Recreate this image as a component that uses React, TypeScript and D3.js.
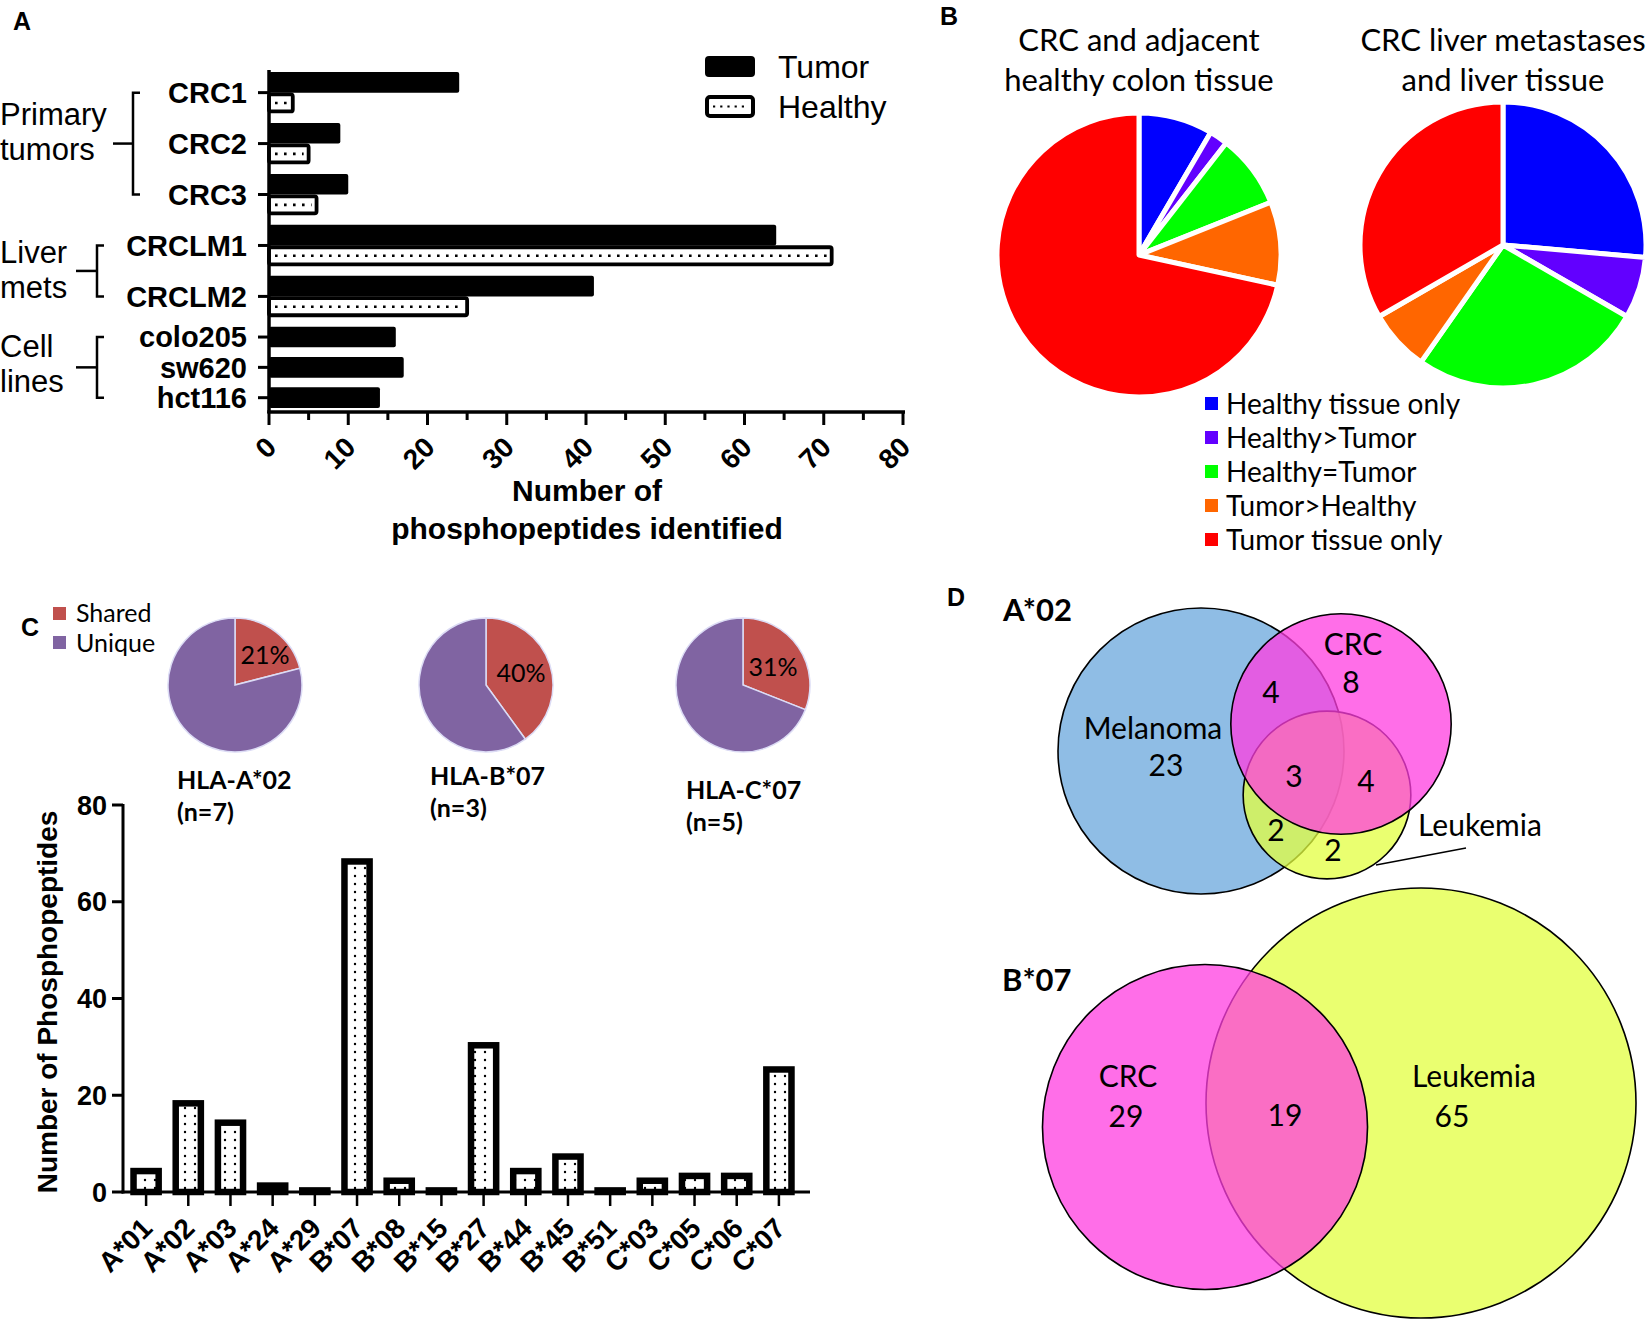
import React from 'react';
import * as d3 from 'd3';

// ---------- Panel A: phosphopeptides per sample ----------
const samplesA = ['CRC1', 'CRC2', 'CRC3', 'CRCLM1', 'CRCLM2', 'colo205', 'sw620', 'hct116'];
const tumorA = [24, 9, 10, 64, 41, 16, 17, 14];
const healthyA: (number | null)[] = [3, 5, 6, 71, 25, null, null, null];
const ticksA = [0, 10, 20, 30, 40, 50, 60, 70, 80];
const groupsA = [
  { lines: ['Primary', 'tumors'], from: 0, to: 2, bx: 133, stub: 113, textY: 125 },
  { lines: ['Liver', 'mets'], from: 3, to: 4, bx: 97, stub: 76, textY: 263 },
  { lines: ['Cell', 'lines'], from: 5, to: 7, bx: 97, stub: 76, textY: 357 },
];

// ---------- Panel B: pies ----------
const categoriesB = ['Healthy tissue only', 'Healthy>Tumor', 'Healthy=Tumor', 'Tumor>Healthy', 'Tumor tissue only'];
const colorsB = ['#0000ff', '#6200ff', '#00ff00', '#ff6600', '#ff0000'];
const colonCounts = [8, 2, 8, 9, 68];
const liverCounts = [19, 5, 19, 5, 24];
const titlesB = [
  ['CRC and adjacent', 'healthy colon tissue'],
  ['CRC liver metastases', 'and liver tissue'],
];

// ---------- Panel C ----------
const allelesPie = ['HLA-A*02', 'HLA-B*07', 'HLA-C*07'];
const nPie = [7, 3, 5];
const sharedPct = [21, 40, 31];
const allelesC = ['A*01', 'A*02', 'A*03', 'A*24', 'A*29', 'B*07', 'B*08', 'B*15', 'B*27', 'B*44', 'B*45', 'B*51', 'C*03', 'C*05', 'C*06', 'C*07'];
const countsC = [5, 19, 15, 2, 1, 69, 3, 1, 31, 5, 8, 1, 3, 4, 4, 26];
const ticksC = [0, 20, 40, 60, 80];

// ---------- Panel D: Venn ----------
const regionsA02 = [
  { sets: ['Melanoma'], value: 23 },
  { sets: ['CRC'], value: 8 },
  { sets: ['Melanoma', 'CRC'], value: 4 },
  { sets: ['Melanoma', 'CRC', 'Leukemia'], value: 3 },
  { sets: ['CRC', 'Leukemia'], value: 4 },
  { sets: ['Melanoma', 'Leukemia'], value: 2 },
  { sets: ['Leukemia'], value: 2 },
];
const regionsB07 = [
  { sets: ['CRC'], value: 29 },
  { sets: ['CRC', 'Leukemia'], value: 19 },
  { sets: ['Leukemia'], value: 65 },
];

const ARIAL = "'Liberation Sans', Arial, sans-serif";
const CAL = "Lato, 'Open Sans', sans-serif";

function setTotal(regions: { sets: string[]; value: number }[], name: string) {
  return d3.sum(regions.filter(r => r.sets.includes(name)), r => r.value);
}

function PanelA() {
  const x = d3.scaleLinear().domain([0, 80]).range([269, 903]);
  const GAP = 0.47;
  let acc = 0;
  const rows = samplesA.map((name, i) => {
    const n = healthyA[i] == null ? 1 : 2;
    const r = { name, i, start: acc, n };
    acc += n + GAP;
    return r;
  });
  const y = d3.scaleLinear().domain([0, acc - GAP]).range([72, 408]);
  const tickY = (i: number) => y(rows[i].start + rows[i].n / 2);
  const minor = d3.range(5, 80, 10);

  return (
    <g fontFamily={ARIAL}>
      <text x={13} y={30} fontSize={25} fontWeight="bold">A</text>

      {/* bars */}
      {rows.map(r => {
        const h = healthyA[r.i];
        const t0 = y(r.start), t1 = y(r.start + 1);
        return (
          <g key={r.name}>
            <rect x={x(0)} y={t0} width={x(tumorA[r.i]) - x(0)} height={t1 - t0} fill="#000" rx={2} />
            {h != null && (
              <g>
                <rect x={x(0)} y={y(r.start + 1) + 1.8} width={x(h) - x(0)} height={y(r.start + 2) - y(r.start + 1) - 3.6}
                  fill="#fff" stroke="#000" strokeWidth={3.8} rx={2} />
                <line x1={x(0) + 6} x2={x(h) - 5} y1={(y(r.start + 1) + y(r.start + 2)) / 2} y2={(y(r.start + 1) + y(r.start + 2)) / 2}
                  stroke="#000" strokeWidth={2.6} strokeDasharray="2.6 6.4" />
              </g>
            )}
          </g>
        );
      })}

      {/* axes */}
      <line x1={x(0)} x2={x(0)} y1={70} y2={413} stroke="#000" strokeWidth={3.5} />
      <line x1={x(0) - 1.7} x2={x(80) + 2} y1={412} y2={412} stroke="#000" strokeWidth={3.5} />
      {rows.map(r => (
        <g key={'t' + r.name}>
          <line x1={x(0) - 11} x2={x(0)} y1={tickY(r.i)} y2={tickY(r.i)} stroke="#000" strokeWidth={3} />
          <text x={247} y={tickY(r.i)} dy="0.36em" textAnchor="end" fontSize={29} fontWeight="bold">{r.name}</text>
        </g>
      ))}
      {ticksA.map(v => (
        <g key={'x' + v}>
          <line x1={x(v)} x2={x(v)} y1={412} y2={425} stroke="#000" strokeWidth={3} />
          <text transform={`translate(${x(v) + 9},${449}) rotate(-45)`} textAnchor="end" fontSize={28} fontWeight="bold">{v}</text>
        </g>
      ))}
      {minor.map(v => (
        <line key={'m' + v} x1={x(v)} x2={x(v)} y1={412} y2={420} stroke="#000" strokeWidth={3} />
      ))}
      <text x={587} y={501} textAnchor="middle" fontSize={30} fontWeight="bold">Number of</text>
      <text x={587} y={539} textAnchor="middle" fontSize={30} fontWeight="bold">phosphopeptides identified</text>

      {/* brackets */}
      {groupsA.map(g => {
        const top = tickY(g.from), bot = tickY(g.to), mid = (top + bot) / 2;
        return (
          <g key={g.lines[0]}>
            <path d={`M${g.bx + 7},${top} H${g.bx} V${bot} H${g.bx + 7}`} fill="none" stroke="#000" strokeWidth={2.5} />
            <line x1={g.stub} x2={g.bx} y1={mid} y2={mid} stroke="#000" strokeWidth={2.5} />
            <text x={0} y={g.textY} fontSize={31}>{g.lines[0]}</text>
            <text x={0} y={g.textY + 35} fontSize={31}>{g.lines[1]}</text>
          </g>
        );
      })}

      {/* legend */}
      <rect x={705} y={56} width={50} height={21} rx={4} fill="#000" />
      <text x={778} y={78} fontSize={32}>Tumor</text>
      <rect x={707} y={97} width={46} height={19} rx={3} fill="#fff" stroke="#000" strokeWidth={4} />
      <line x1={713} x2={748} y1={106.5} y2={106.5} stroke="#000" strokeWidth={2.2} strokeDasharray="2.2 5" />
      <text x={778} y={118} fontSize={32}>Healthy</text>
    </g>
  );
}

function PieB({ counts, cx, cy, r }: { counts: number[]; cx: number; cy: number; r: number }) {
  const arcs = d3.pie<number>().sort(null).value(d => d)(counts);
  const arc = d3.arc<d3.PieArcDatum<number>>().innerRadius(0).outerRadius(r);
  return (
    <g transform={`translate(${cx},${cy})`}>
      {arcs.map((a, i) => (
        <path key={i} d={arc(a) || undefined} fill={colorsB[i]} stroke="#fff" strokeWidth={5} strokeLinejoin="round" />
      ))}
    </g>
  );
}

function PanelB() {
  const centers = [[1139, 255], [1503, 245]];
  const legendY = d3.scalePoint<string>().domain(categoriesB).range([404, 540]);
  return (
    <g fontFamily={CAL}>
      <text x={940} y={25} fontSize={25} fontWeight="bold" fontFamily={ARIAL}>B</text>
      {titlesB.map((t, i) => (
        <g key={i}>
          <text x={centers[i][0]} y={51} textAnchor="middle" fontSize={31}>{t[0]}</text>
          <text x={centers[i][0]} y={91} textAnchor="middle" fontSize={31}>{t[1]}</text>
        </g>
      ))}
      <PieB counts={colonCounts} cx={centers[0][0]} cy={centers[0][1]} r={142} />
      <PieB counts={liverCounts} cx={centers[1][0]} cy={centers[1][1]} r={143} />
      {categoriesB.map((c, i) => (
        <g key={c}>
          <rect x={1205} y={legendY(c)! - 7} width={13} height={13} fill={colorsB[i]} />
          <text x={1226} y={legendY(c)!} dy="0.34em" fontSize={28}>{c}</text>
        </g>
      ))}
    </g>
  );
}

function PanelC() {
  const pieCenters = [235, 486, 743];
  const pctPos = [[265, 655], [521, 673], [773, 667]];
  const labelPos = [[177, 780], [430, 776], [686, 790]];
  const arc = d3.arc<d3.PieArcDatum<number>>().innerRadius(0).outerRadius(67);
  const x = d3.scaleBand<string>().domain(allelesC).range([125, 800]).paddingInner(0.25).paddingOuter(0.125);
  const y = d3.scaleLinear().domain([0, 80]).range([1192, 805]);
  const sw = 6.5;
  return (
    <g>
      <text x={21} y={636} fontSize={25} fontWeight="bold" fontFamily={ARIAL}>C</text>
      <g fontFamily={CAL}>
        <rect x={53} y={607} width={13} height={13} fill="#c0504d" />
        <text x={76} y={613} dy="0.36em" fontSize={25}>Shared</text>
        <rect x={53} y={636} width={13} height={13} fill="#8064a2" />
        <text x={76} y={643} dy="0.36em" fontSize={25}>Unique</text>
        {sharedPct.map((p, i) => {
          const arcs = d3.pie<number>().sort(null).value(d => d)([p, 100 - p]);
          return (
            <g key={i}>
              <g transform={`translate(${pieCenters[i]},685)`}>
                {arcs.map((a, j) => (
                  <path key={j} d={arc(a) || undefined} fill={j === 0 ? '#c0504d' : '#8064a2'} stroke="#dcdcf5" strokeWidth={1.5} />
                ))}
              </g>
              <text x={pctPos[i][0]} y={pctPos[i][1]} dy="0.36em" textAnchor="middle" fontSize={25}>{p}%</text>
              <text x={labelPos[i][0]} y={labelPos[i][1]} dy="0.36em" fontSize={25} fontWeight="bold">{allelesPie[i]}</text>
              <text x={labelPos[i][0]} y={labelPos[i][1] + 32} dy="0.36em" fontSize={25} fontWeight="bold">(n={nPie[i]})</text>
            </g>
          );
        })}
      </g>

      <g fontFamily={ARIAL}>
        {allelesC.map((a, i) => {
          const x0 = x(a)!, bw = x.bandwidth();
          const top = y(countsC[i]);
          return (
            <rect key={a} x={x0 + sw / 2} y={top + sw / 2} width={bw - sw} height={Math.max(0.5, y(0) - top - sw / 2)}
              fill="url(#dotsC)" stroke="#000" strokeWidth={sw} />
          );
        })}
        <line x1={123} x2={123} y1={804} y2={1193.5} stroke="#000" strokeWidth={3} />
        <line x1={121.5} x2={810} y1={1192} y2={1192} stroke="#000" strokeWidth={3} />
        {ticksC.map(v => (
          <g key={v}>
            <line x1={112} x2={123} y1={y(v)} y2={y(v)} stroke="#000" strokeWidth={3} />
            <text x={107} y={y(v)} dy="0.36em" textAnchor="end" fontSize={27} fontWeight="bold">{v}</text>
          </g>
        ))}
        {allelesC.map(a => {
          const cx = x(a)! + x.bandwidth() / 2;
          return (
            <g key={'l' + a}>
              <line x1={cx} x2={cx} y1={1192} y2={1206} stroke="#000" strokeWidth={2.5} />
              <text transform={`translate(${cx + 8},${1230}) rotate(-45)`} textAnchor="end" fontSize={28} fontWeight="bold">{a}</text>
            </g>
          );
        })}
        <text transform="translate(57,1002) rotate(-90)" textAnchor="middle" fontSize={28} fontWeight="bold">Number of Phosphopeptides</text>
      </g>
    </g>
  );
}

function PanelD() {
  const rA = d3.scaleSqrt().domain([0, setTotal(regionsA02, 'Melanoma')]).range([0, 143]);
  const rB = d3.scaleSqrt().domain([0, setTotal(regionsB07, 'Leukemia')]).range([0, 215]);
  const circlesA = [
    { name: 'Melanoma', cx: 1201, cy: 751, fill: '#8fbde5', op: 1 },
    { name: 'Leukemia', cx: 1327, cy: 795, fill: '#e3ff40', op: 0.75 },
    { name: 'CRC', cx: 1341, cy: 724, fill: '#ff3ee0', op: 0.75 },
  ];
  const circlesB = [
    { name: 'Leukemia', cx: 1421, cy: 1103, fill: '#e3ff40', op: 0.75 },
    { name: 'CRC', cx: 1205, cy: 1127, fill: '#ff3ee0', op: 0.75 },
  ];
  // label positions for each region, in the order of regionsA02 / regionsB07
  const posA = [[1166, 765], [1351, 682], [1271, 692], [1294, 776], [1366, 781], [1276, 830], [1333, 850]];
  const posB = [[1126, 1116], [1285, 1115], [1452, 1116]];
  return (
    <g fontFamily={CAL}>
      <text x={947} y={606} fontSize={25} fontWeight="bold" fontFamily={ARIAL}>D</text>
      <text x={1003} y={610} dy="0.36em" fontSize={31} fontWeight="bold">A*02</text>
      {circlesA.map(c => (
        <circle key={c.name} cx={c.cx} cy={c.cy} r={rA(setTotal(regionsA02, c.name))} fill={c.fill} fillOpacity={c.op} stroke="#000" strokeWidth={1.6} />
      ))}
      <text x={1153} y={728} dy="0.36em" textAnchor="middle" fontSize={30}>Melanoma</text>
      <text x={1353} y={644} dy="0.36em" textAnchor="middle" fontSize={30}>CRC</text>
      <text x={1418} y={825} dy="0.36em" fontSize={30}>Leukemia</text>
      <line x1={1466} y1={848} x2={1376} y2={865} stroke="#000" strokeWidth={1.4} />
      {regionsA02.map((r, i) => (
        <text key={i} x={posA[i][0]} y={posA[i][1]} dy="0.36em" textAnchor="middle" fontSize={30}>{r.value}</text>
      ))}

      <text x={1002} y={980} dy="0.36em" fontSize={31} fontWeight="bold">B*07</text>
      {circlesB.map(c => (
        <circle key={c.name} cx={c.cx} cy={c.cy} r={rB(setTotal(regionsB07, c.name))} fill={c.fill} fillOpacity={c.op} stroke="#000" strokeWidth={1.6} />
      ))}
      <text x={1128} y={1076} dy="0.36em" textAnchor="middle" fontSize={30}>CRC</text>
      <text x={1412} y={1076} dy="0.36em" fontSize={30}>Leukemia</text>
      {regionsB07.map((r, i) => (
        <text key={i} x={posB[i][0]} y={posB[i][1]} dy="0.36em" textAnchor="middle" fontSize={30}>{r.value}</text>
      ))}
    </g>
  );
}

export default function App() {
  return (
    <>
      <style>{`body{margin:0;background:#fff}`}</style>
      <svg width={1650} height={1320} viewBox="0 0 1650 1320" style={{ display: 'block', background: '#fff' }}>
        <defs>
          <pattern id="dotsC" width={10} height={8} patternUnits="userSpaceOnUse">
            <rect width={10} height={8} fill="#fff" />
            <circle cx={5} cy={4} r={1.2} fill="#000" />
          </pattern>
        </defs>
        <PanelA />
        <PanelB />
        <PanelC />
        <PanelD />
      </svg>
    </>
  );
}
